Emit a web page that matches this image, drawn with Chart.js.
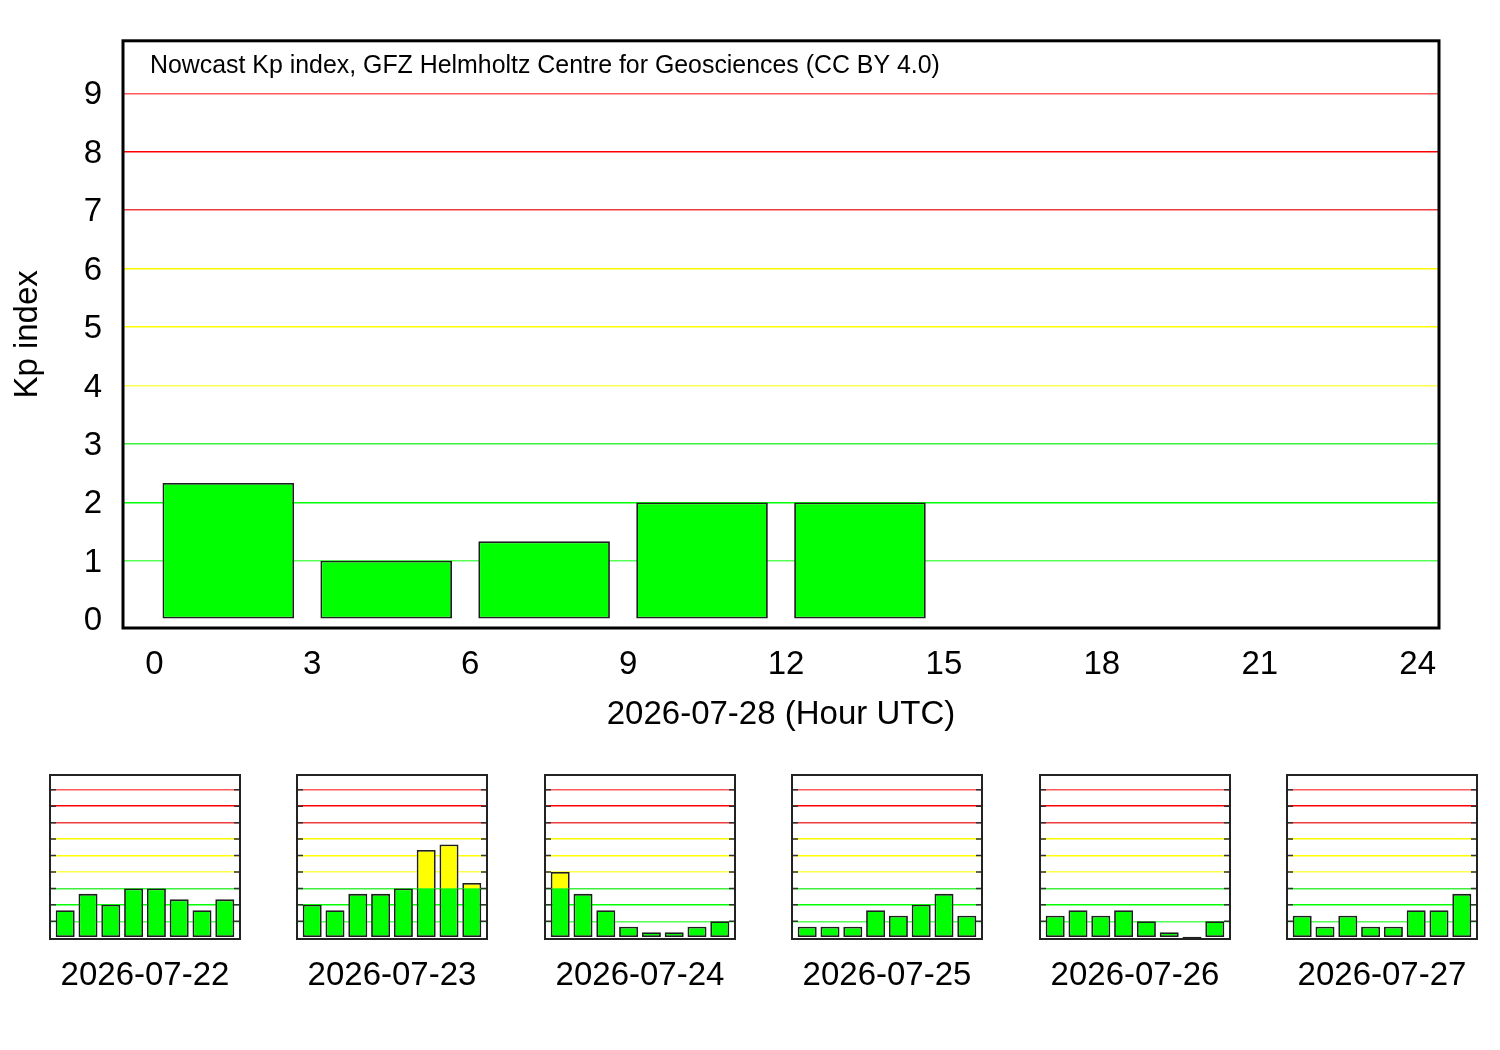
<!DOCTYPE html>
<html>
<head>
<meta charset="utf-8">
<script src="https://cdn.jsdelivr.net/npm/chart.js@4/dist/chart.umd.min.js"></script>
<style>
html,body{margin:0;padding:0;background:#fff;}
body{width:1500px;height:1050px;position:relative;overflow:hidden;}
.box{position:absolute;}
canvas{display:block;}
</style>
</head>
<body>
<div class="box" style="left:0;top:0;width:1500px;height:750px"><canvas id="main" width="1500" height="750"></canvas></div>
<div id="smalls"></div>
<script>
// ---------- data ----------
const hourTicks = [0, 3, 6, 9, 12, 15, 18, 21, 24];
const kpTicks = [0, 1, 2, 3, 4, 5, 6, 7, 8, 9];
const mainDate = '2026-07-28';
const mainSlotMid = [1.5, 4.5, 7.5, 10.5, 13.5];
const mainKp = [2.333, 1.0, 1.333, 2.0, 2.0];
const daySlotMid = [1.5, 4.5, 7.5, 10.5, 13.5, 16.5, 19.5, 22.5];
const pastDates = ['2026-07-22', '2026-07-23', '2026-07-24', '2026-07-25', '2026-07-26', '2026-07-27'];
const kp0722 = [1.667, 2.667, 2.0, 3.0, 3.0, 2.333, 1.667, 2.333];
const kp0723 = [2.0, 1.667, 2.667, 2.667, 3.0, 5.333, 5.667, 3.333];
const kp0724 = [4.0, 2.667, 1.667, 0.667, 0.333, 0.333, 0.667, 1.0];
const kp0725 = [0.667, 0.667, 0.667, 1.667, 1.333, 2.0, 2.667, 1.333];
const kp0726 = [1.333, 1.667, 1.333, 1.667, 1.0, 0.333, 0.0, 1.0];
const kp0727 = [1.333, 0.667, 1.333, 0.667, 0.667, 1.667, 1.667, 2.667];
const pastKp = [kp0722, kp0723, kp0724, kp0725, kp0726, kp0727];
const kpColourStep = 3;
const creditText = 'Nowcast Kp index, GFZ Helmholtz Centre for Geosciences (CC BY 4.0)';

// ---------- styles ----------
const FONT = '"Liberation Sans", Arial, Helvetica, sans-serif';
const gridColors = {0:'rgba(0,0,0,0)',1:'#55ff55',2:'#00ff00',3:'#3cf03c',4:'#ffff50',5:'#ffff00',6:'#f8f800',7:'#ee3c3c',8:'#ff0000',9:'#ff5a5a'};
const GREEN = '#00ff00', YELLOW = '#ffff00', EDGE = '#1e1e1e';

const framePlugin = (w, color) => ({
  id: 'frame',
  afterDraw(chart) {
    const {ctx, chartArea: a} = chart;
    ctx.save();
    ctx.strokeStyle = color; ctx.lineWidth = w;
    ctx.strokeRect(a.left, a.top, a.right - a.left, a.bottom - a.top);
    ctx.restore();
  }
});
const innerTicksPlugin = {
  id: 'innerTicks',
  afterDatasetsDraw(chart) {
    const {ctx, chartArea: a, scales} = chart;
    ctx.save();
    ctx.strokeStyle = '#333'; ctx.lineWidth = 1.5;
    kpTicks.forEach(v => {
      if (v === 0) return;
      const y = scales.y.getPixelForValue(v);
      ctx.beginPath();
      ctx.moveTo(a.left, y); ctx.lineTo(a.left + 6, y);
      ctx.moveTo(a.right - 6, y); ctx.lineTo(a.right, y);
      ctx.stroke();
    });
    ctx.restore();
  }
};
const creditPlugin = {
  id: 'credit',
  afterDraw(chart) {
    const {ctx, chartArea: a} = chart;
    ctx.save();
    ctx.fillStyle = '#000';
    ctx.font = '24.9px ' + FONT;
    ctx.textBaseline = 'alphabetic';
    ctx.textAlign = 'left';
    ctx.fillText(creditText, a.left + 27, a.top + 32.5);
    ctx.restore();
  }
};

function kpDatasets(xs, vals) {
  const green = xs.map((x, i) => ({x, y: Math.min(vals[i], kpColourStep)}));
  const yellow = xs.map((x, i) => ({x, y: vals[i] > kpColourStep ? vals[i] - kpColourStep : null}));
  const common = {borderColor: EDGE, borderWidth: 1.8, categoryPercentage: 2.5 / 3, barPercentage: 1};
  return [
    Object.assign({}, common, {data: green, backgroundColor: GREEN, minBarLength: 2,
      borderSkipped: c => (vals[c.dataIndex] > kpColourStep ? 'top' : false)}),
    Object.assign({}, common, {data: yellow, backgroundColor: YELLOW, borderSkipped: 'bottom'})
  ];
}

// ---------- main chart ----------
new Chart(document.getElementById('main'), {
  type: 'bar',
  data: {datasets: kpDatasets(mainSlotMid, mainKp)},
  options: {
    responsive: false, animation: false, devicePixelRatio: 1,
    layout: {padding: {left: 0, right: 61, top: 40, bottom: 0}},
    plugins: {legend: {display: false}, tooltip: {enabled: false}},
    scales: {
      x: {
        type: 'linear', min: -0.5, max: 24.5, stacked: true, offset: false,
        afterBuildTicks: s => { s.ticks = hourTicks.map(v => ({value: v})); },
        afterFit: s => { s.height = 122; },
        ticks: {font: {size: 33, family: FONT}, color: '#000', padding: 17, labelOffset: 5, maxRotation: 0, autoSkip: false, callback: v => String(v)},
        grid: {display: false, drawTicks: false, offset: false},
        border: {display: false},
        title: {display: true, text: mainDate + ' (Hour UTC)', font: {size: 33, family: FONT}, color: '#000', padding: {top: 0, bottom: 15}}
      },
      y: {
        type: 'linear', min: -0.15, max: 9.9, stacked: true,
        afterBuildTicks: s => { s.ticks = kpTicks.map(v => ({value: v})); },
        afterFit: s => { s.width = 123; },
        ticks: {font: {size: 33, family: FONT}, color: '#000', padding: 21, labelOffset: 2, callback: v => String(v)},
        grid: {drawTicks: false, lineWidth: 1.6, color: c => gridColors[c.tick ? c.tick.value : 0] || 'rgba(0,0,0,0)'},
        border: {display: false},
        title: {display: true, text: 'Kp index', font: {size: 33, family: FONT}, color: '#000', padding: {top: 8, bottom: 0}}
      }
    }
  },
  plugins: [framePlugin(3, '#000'), creditPlugin]
});

// ---------- small daily charts ----------
const holder = document.getElementById('smalls');
pastDates.forEach((date, i) => {
  const left = Math.round(50 + i * 247.4) - 10;
  const div = document.createElement('div');
  div.className = 'box';
  div.style.cssText = 'left:' + left + 'px;top:765px;width:210px;height:235px';
  const cv = document.createElement('canvas');
  cv.width = 210; cv.height = 235;
  div.appendChild(cv);
  holder.appendChild(div);
  new Chart(cv, {
    type: 'bar',
    data: {datasets: kpDatasets(daySlotMid, pastKp[i])},
    options: {
      responsive: false, animation: false, devicePixelRatio: 1,
      layout: {padding: {left: 10, right: 10, top: 10, bottom: 0}},
      plugins: {legend: {display: false}, tooltip: {enabled: false}},
      scales: {
        x: {
          type: 'linear', min: -0.5, max: 24.5, stacked: true, offset: false,
          afterBuildTicks: s => { s.ticks = hourTicks.map(v => ({value: v})); },
          afterFit: s => { s.height = 61; },
          ticks: {display: false},
          grid: {display: false, drawTicks: false, offset: false},
          border: {display: false},
          title: {display: true, text: date, font: {size: 33, family: FONT}, color: '#000', padding: {top: 0, bottom: 4}}
        },
        y: {
          type: 'linear', min: -0.08, max: 9.9, stacked: true,
          afterBuildTicks: s => { s.ticks = kpTicks.map(v => ({value: v})); },
          afterFit: s => { s.width = 0; },
          ticks: {display: false},
          grid: {drawTicks: false, lineWidth: 1.5, color: c => gridColors[c.tick ? c.tick.value : 0] || 'rgba(0,0,0,0)'},
          border: {display: false}
        }
      }
    },
    plugins: [innerTicksPlugin, framePlugin(2, '#222')]
  });
});
</script>
</body>
</html>
